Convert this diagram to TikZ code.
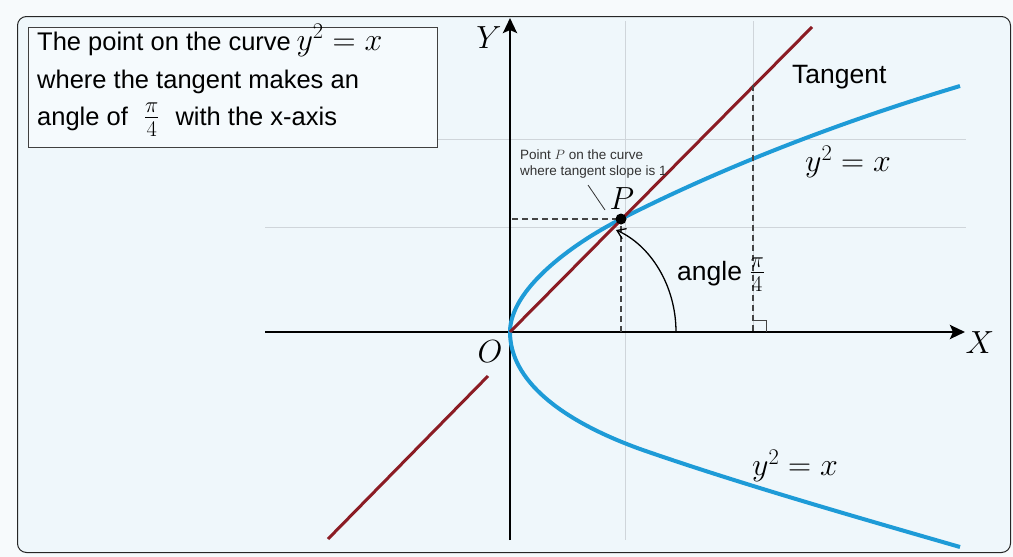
\RequirePackage{fix-cm}
\documentclass[tikz,border=0pt]{standalone}
\usepackage{fontspec}
\setmainfont{Liberation Sans}
\usetikzlibrary{arrows.meta}
\definecolor{bgout}{HTML}{F7FAFC}
\definecolor{bgin}{HTML}{EFF7FB}
\definecolor{bluec}{HTML}{1E9BD7}
\definecolor{redc}{HTML}{8B1C24}
\definecolor{gridc}{HTML}{CFD5DA}
\definecolor{dashc}{HTML}{444444}
\newcommand{\M}[1]{{\fontsize{32}{37}\selectfont$#1$}}
\begin{document}
\begin{tikzpicture}[x=1pt,y=-1pt,
  frame/.style={draw=black!85,line width=1pt},
  gridline/.style={draw=gridc,line width=1pt},
  axis/.style={line width=2.8pt,-{Stealth[length=15pt,width=14pt,inset=3pt]}},
  curve/.style={draw=bluec,line width=4pt},
  tang/.style={draw=redc,line width=3pt},
  guide/.style={draw=dashc,line width=1.4pt,dash pattern=on 6pt off 4pt},
  txt/.style={inner sep=0pt,font=\fontsize{25.5}{37}\selectfont},
  bigtxt/.style={inner sep=0pt,font=\fontsize{26.5}{37}\selectfont},
  small/.style={inner sep=0pt,font=\fontsize{13.5}{16}\selectfont,text=black!80},
  mlabel/.style={inner sep=0pt,font=\fontsize{32}{37}\selectfont}
]
\useasboundingbox (0,0) rectangle (1013,557);
\fill[bgout] (0,0) rectangle (1013,557);
\draw[frame,fill=bgin,rounded corners=9pt] (17.5,16.5) rectangle (1010.5,552.5);

% grid
\draw[gridline] (265,139) -- (966,139);
\draw[gridline] (265,227) -- (966,227);
\draw[gridline] (625,21) -- (625,540);
\draw[gridline] (753,21) -- (753,332);

% coordinates
\coordinate (O) at (510,332);
\coordinate (Pc) at (621,219);
\coordinate (xs) at (265,332);
\coordinate (xe) at (965,332);
\coordinate (ys) at (510,540);
\coordinate (ye) at (510,18);
\coordinate (t1) at (812,27);
\coordinate (t2a) at (328,539);
\coordinate (t2b) at (488,376);
\coordinate (cLow) at (960,547);
\coordinate (cMid) at (640,449);
\coordinate (cUp) at (960,86);
\coordinate (yfoot) at (512,219);
\coordinate (pfoot) at (621,332);
\coordinate (ptop) at (621,226);
\coordinate (qtop) at (753,85);
\coordinate (qfoot) at (753,332);
\coordinate (arcS) at (676,332);
\coordinate (arcE) at (616,230);

% text box
\node (box) [draw=black!75,fill=bgin!60!white,line width=0.9pt,minimum width=409pt,minimum height=120pt,anchor=north west,inner sep=0pt] at (28,27) {};
\node (l1) [txt,anchor=base west] at (37,50) {The point on the curve\hspace{-1.5pt} \M{y^2=x}};
\node (l2) [txt,anchor=base west] at (37,88) {where the tangent makes an};
\node (l3) [txt,anchor=base west] at (37,125) {angle of \M{\;\frac{\pi}{4}\;} with the x-axis};

% axes
\draw[axis] (xs) -- (xe);
\draw[axis] (ys) -- (ye);

% parabola
\draw[curve] (cLow) .. controls (870,521) and (740,484) .. (cMid)
  .. controls (560,420) and (510,380) .. (O)
  .. controls (510,290) and (570,245) .. (Pc)
  .. controls (731,163) and (850,119) .. (cUp);

% tangent
\draw[tang] (O) -- (t1);
\draw[tang] (t2a) -- (t2b);

% guides
\draw[guide] (yfoot) -- (Pc);
\draw[guide] (ptop) -- (pfoot);
\draw[guide] (qtop) -- (qfoot);
\draw[dashc,line width=1pt] (753,320) -- (766,320) -- (766,332);

% angle arc
\draw[line width=1.3pt,-{Straight Barb[length=8pt,width=11pt]}] (arcS) .. controls (676,285) and (650,245) .. (arcE);

% point P
\node (P) [circle,fill=black,inner sep=0pt,minimum size=11pt] at (Pc) {};

% annotation
\node (a1) [small,anchor=base west] at (520,159) {Point $P$ on the curve};
\node (a2) [small,anchor=base west] at (520,175) {where tangent slope is 1};
\coordinate (lead1) at (588,185);
\coordinate (lead2) at (605,210);
\draw[black!80,line width=0.8pt] (lead1) -- (lead2);

% labels
\node (Ylab) [mlabel] at (489,38) {$Y$};
\node (Xlab) [mlabel] at (980,343) {$X$};
\node (Olab) [mlabel] at (490,352) {$O$};
\node (Plab) [mlabel] at (622,199) {$P$};
\node (tanlab) [bigtxt,anchor=base west] at (792,83) {Tangent};
\node (eq1) [mlabel] at (848,162) {$y^2=x$};
\node (eq2) [mlabel] at (795,466) {$y^2=x$};
\node (anglab) [bigtxt,anchor=base west] at (677,280) {angle \M{\frac{\pi}{4}}};
\end{tikzpicture}
\end{document}
